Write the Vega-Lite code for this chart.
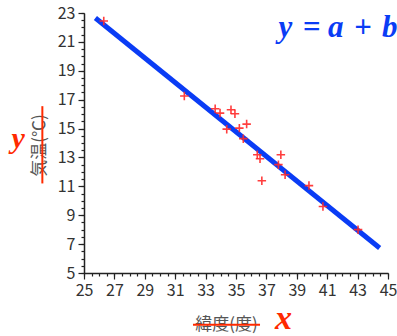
{
  "$schema": "https://vega.github.io/schema/vega-lite/v6.json",
  "width": 304,
  "height": 260,
  "autosize": "none",
  "padding": {"left": 84, "top": 13, "right": 9, "bottom": 63},
  "background": "white",
  "config": {
    "view": {"stroke": null},
    "axis": {
      "domainColor": "#222",
      "domainWidth": 1.5,
      "tickColor": "#222",
      "tickWidth": 1.2,
      "grid": false,
      "labelFont": "Noto Sans CJK JP",
      "labelFontSize": 16,
      "labelColor": "#333",
      "labelOverlap": false,
      "labelFlush": false,
      "titleFont": "Noto Sans CJK JP",
      "titleFontSize": 17,
      "titleFontWeight": "normal",
      "titleColor": "#555"
    }
  },
  "resolve": {"axis": {"x": "independent", "y": "independent"}},
  "layer": [
    {
      "data": {"values": [{"lat": 25.75, "temp": 22.65}, {"lat": 44.45, "temp": 6.73}]},
      "mark": {"type": "line", "color": "#0a3cf5", "strokeWidth": 5},
      "encoding": {
        "x": {
          "field": "lat", "type": "quantitative",
          "scale": {"domain": [25, 45], "nice": false, "zero": false},
          "axis": {
            "orient": "bottom",
            "title": "緯度(度)",
            "titleX": 142,
            "titleY": 51,
            "titleAlign": "center",
            "titleBaseline": "middle",
            "values": [25,27,29,31,33,35,37,39,41,43,45],
            "tickSize": 6,
            "labelPadding": 3,
            "labelOverlap": false
          }
        },
        "y": {
          "field": "temp", "type": "quantitative",
          "scale": {"domain": [5, 23], "nice": false, "zero": false},
          "axis": {
            "orient": "left",
            "title": "気温(℃)",
            "titleX": -45,
            "titleY": 132,
            "titleAlign": "center",
            "titleBaseline": "middle",
            "values": [5,7,9,11,13,15,17,19,21,23],
            "tickSize": 6,
            "labelPadding": 3,
            "labelOverlap": false
          }
        }
      }
    },
    {
      "data": {"values": [
        {"lat": 26.3, "temp": 22.45},
        {"lat": 31.6, "temp": 17.25},
        {"lat": 33.63, "temp": 16.37},
        {"lat": 33.95, "temp": 16.07},
        {"lat": 34.67, "temp": 16.3},
        {"lat": 34.93, "temp": 16.03},
        {"lat": 35.7, "temp": 15.31},
        {"lat": 34.39, "temp": 14.96},
        {"lat": 35.22, "temp": 15.03},
        {"lat": 35.48, "temp": 14.3},
        {"lat": 36.4, "temp": 13.19},
        {"lat": 36.58, "temp": 12.91},
        {"lat": 37.95, "temp": 13.19},
        {"lat": 37.79, "temp": 12.5},
        {"lat": 38.23, "temp": 11.8},
        {"lat": 36.7, "temp": 11.39},
        {"lat": 39.8, "temp": 11.05},
        {"lat": 40.72, "temp": 9.6},
        {"lat": 43.03, "temp": 8.0}
      ]},
      "mark": {"type": "point", "shape": "M-1,0H1M0,-1V1", "filled": false, "size": 72, "stroke": "#ff2a2a", "strokeWidth": 1.6, "opacity": 0.9},
      "encoding": {
        "x": {
          "field": "lat", "type": "quantitative",
          "axis": {
            "orient": "bottom",
            "title": null,
            "labels": false,
            "domain": false,
            "values": [25,25.5,26,26.5,27,27.5,28,28.5,29,29.5,30,30.5,31,31.5,32,32.5,33,33.5,34,34.5,35,35.5,36,36.5,37,37.5,38,38.5,39,39.5,40,40.5,41,41.5,42,42.5,43,43.5,44,44.5,45],
            "tickSize": 3
          }
        },
        "y": {
          "field": "temp", "type": "quantitative",
          "axis": {
            "orient": "left",
            "title": null,
            "labels": false,
            "domain": false,
            "values": [5,5.5,6,6.5,7,7.5,8,8.5,9,9.5,10,10.5,11,11.5,12,12.5,13,13.5,14,14.5,15,15.5,16,16.5,17,17.5,18,18.5,19,19.5,20,20.5,21,21.5,22,22.5,23],
            "tickSize": 3
          }
        }
      }
    },
    {
      "data": {"values": [
        {"lat": 32.17, "temp": 1.41, "lat2": 36.58, "temp2": 1.41},
        {"lat": 22.26, "temp": 16.55, "lat2": 22.26, "temp2": 11.2}
      ]},
      "mark": {"type": "rule", "color": "#ff2a00", "strokeWidth": 2},
      "encoding": {
        "x": {"field": "lat", "type": "quantitative", "axis": null},
        "x2": {"field": "lat2"},
        "y": {"field": "temp", "type": "quantitative", "axis": null},
        "y2": {"field": "temp2"}
      }
    },
    {
      "data": {"values": [
        {"lat": 37.57, "temp": 1.14, "label": "x"}
      ]},
      "mark": {"type": "text", "align": "left", "baseline": "alphabetic", "font": "Liberation Serif", "fontStyle": "italic", "fontWeight": "bold", "fontSize": 34, "color": "#ff2a00"},
      "encoding": {
        "x": {"field": "lat", "type": "quantitative", "axis": null},
        "y": {"field": "temp", "type": "quantitative", "axis": null},
        "text": {"field": "label"}
      }
    },
    {
      "data": {"values": [
        {"lat": 20.23, "temp": 13.67, "label": "y"}
      ]},
      "mark": {"type": "text", "align": "left", "baseline": "alphabetic", "font": "Liberation Serif", "fontStyle": "italic", "fontWeight": "bold", "fontSize": 30, "color": "#ff2a00"},
      "encoding": {
        "x": {"field": "lat", "type": "quantitative", "axis": null},
        "y": {"field": "temp", "type": "quantitative", "axis": null},
        "text": {"field": "label"}
      }
    },
    {
      "data": {"values": [
        {"lat": 37.8, "temp": 21.36, "label": "y\u2004= a\u2004+\u2004b"}
      ]},
      "mark": {"type": "text", "align": "left", "baseline": "alphabetic", "font": "Liberation Serif", "fontStyle": "italic", "fontWeight": "bold", "fontSize": 31, "color": "#0a3cf5"},
      "encoding": {
        "x": {"field": "lat", "type": "quantitative", "axis": null},
        "y": {"field": "temp", "type": "quantitative", "axis": null},
        "text": {"field": "label"}
      }
    }
  ]
}
